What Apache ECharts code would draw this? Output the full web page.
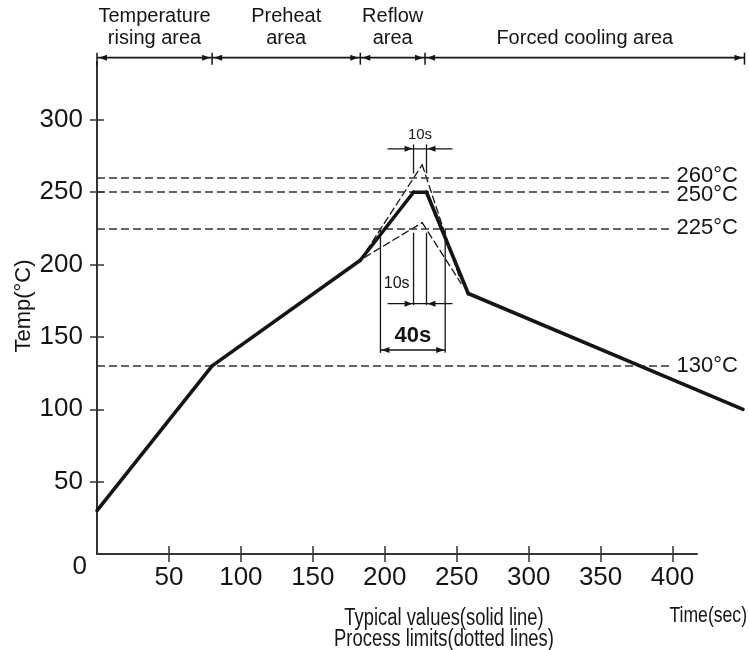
<!DOCTYPE html>
<html>
<head>
<meta charset="utf-8">
<title>Reflow profile</title>
<script src="https://cdn.jsdelivr.net/npm/echarts@6/dist/echarts.min.js"></script>
<style>
    html, body { margin: 0; padding: 0; background: #fff; }
    #chart { width: 749px; height: 650px; }
</style>
</head>
<body>
<div id="chart"></div>
<script>
    // time in seconds, temperature in °C
    const typical = [[0, 30], [80, 130], [183, 203], [220, 250], [229, 250], [258, 180], [449, 100]];
    const upperLimit = [[183, 203], [226, 269], [252, 191]];
    const lowerLimit = [[186, 205], [226, 229], [253, 187]];
    const limitTemps = [260, 250, 225, 130];
    const limitEnd = 400;
    const zoneEdges = [0, 80, 183, 228, 450];
    const zoneNames = ['Temperature\nrising area', 'Preheat\narea', 'Reflow\narea', 'Forced cooling area'];
    const zoneLineTemp = 343;
    const xTicks = [50, 100, 150, 200, 250, 300, 350, 400];
    const yTicks = [50, 100, 150, 200, 250, 300];
    // dimension marks: [from time, to time, temp of the dimension line]
    const dimSpans = [[197, 242, 141], [220, 229, 173], [220, 229, 280]];
    // extension lines: [top temp, bottom temp]
    const dimExtents = [[225, 139], [222, 172], [283, 263]];
    const dimLabels = ['40s', '10s', '10s'];

    const FONT = '"Liberation Sans", Arial, sans-serif';
    const INK = '#151515';

    function arrowHead(tip, dx, len, half) {
        // dx: +1 points right, -1 points left
        const bx = tip[0] - dx * len;
        return {
            type: 'polygon',
            shape: {points: [[tip[0], tip[1]], [bx, tip[1] - half], [bx, tip[1] + half]]},
            style: {fill: INK}
        };
    }

    function seg(x1, y1, x2, y2, w) {
        return {type: 'line', shape: {x1: x1, y1: y1, x2: x2, y2: y2}, style: {stroke: INK, lineWidth: w || 1.4}};
    }

    // profile drawn segment by segment so the cooling slope can run past the axis end
    function profile(name, points, width, dash, z) {
        return {
            name: name, type: 'custom', clip: false, silent: true, z: z,
            data: points,
            encode: {x: 0, y: 1},
            renderItem: function (params, api) {
                const i = params.dataIndex;
                if (i === 0) {
                    return {type: 'group', children: []};
                }
                const p0 = api.coord(points[i - 1]);
                const p1 = api.coord([api.value(0), api.value(1)]);
                return {
                    type: 'line',
                    shape: {x1: p0[0], y1: p0[1], x2: p1[0], y2: p1[1]},
                    style: {stroke: INK, lineWidth: width, lineDash: dash, lineCap: 'round'}
                };
            }
        };
    }

    let myChart = echarts.init(document.getElementById('chart'));
    myChart.setOption({
        animation: false,
        backgroundColor: '#fff',
        grid: {left: 97, right: 52, top: 62, bottom: 96, containLabel: false, outerBoundsMode: 'none'},
        xAxis: [
            {
                type: 'value', min: 0, max: 417,
                axisLine: {lineStyle: {color: '#333', width: 2}},
                axisTick: {length: 8, customValues: xTicks, lineStyle: {color: '#333', width: 1.5}},
                axisLabel: {customValues: xTicks, fontSize: 26, fontFamily: FONT, color: INK, margin: 11},
                splitLine: {show: false}
            },
            {
                type: 'value', min: 0, max: 417, position: 'bottom',
                axisLine: {show: false},
                axisTick: {inside: true, length: 8, customValues: xTicks, lineStyle: {color: '#333', width: 1.5}},
                axisLabel: {show: false},
                splitLine: {show: false}
            }
        ],
        yAxis: [
            {
                type: 'value', min: 0, max: 340,
                axisLine: {show: true, lineStyle: {color: '#333', width: 2}},
                axisTick: {show: true, length: 7, customValues: yTicks, lineStyle: {color: '#333', width: 1.5}},
                axisLabel: {customValues: yTicks, fontSize: 26, fontFamily: FONT, color: INK, margin: 14},
                splitLine: {show: false}
            },
            {
                // inner half of the crossing ticks, plus the origin label
                type: 'value', min: 0, max: 340, position: 'left',
                axisLine: {show: false},
                axisTick: {show: true, inside: true, length: 7, customValues: yTicks, lineStyle: {color: '#333', width: 1.5}},
                axisLabel: {
                    customValues: [0], margin: 10,
                    formatter: function () { return '{z|0}'; },
                    rich: {z: {fontSize: 26, fontFamily: FONT, color: INK, padding: [26, 0, 0, 0]}}
                },
                splitLine: {show: false}
            }
        ],
        graphic: [
            {type: 'text', x: 24, y: 306, rotation: Math.PI / 2,
                style: {text: 'Temp(°C)', font: '22px ' + FONT, fill: INK, align: 'center', verticalAlign: 'middle'}},
            {type: 'text', x: 747, y: 616, scaleX: 0.8,
                style: {text: 'Time(sec)', font: '22px ' + FONT, fill: INK, align: 'right', verticalAlign: 'middle'}},
            {type: 'text', x: 444, y: 608, scaleX: 0.8,
                style: {text: 'Typical values(solid line)\nProcess limits(dotted lines)', font: '23px ' + FONT,
                    fill: INK, align: 'center', verticalAlign: 'top', lineHeight: 21}}
        ],
        series: [
            {
                name: 'limits', type: 'line', data: [], symbol: 'none',
                markLine: {
                    silent: true, symbol: 'none',
                    lineStyle: {color: '#333', width: 1.5, type: [8, 4]},
                    label: {
                        position: 'end', distance: 4, fontSize: 22, fontFamily: FONT, color: INK,
                        formatter: function (p) { return p.data.temp + '°C'; }
                    },
                    data: limitTemps.map(function (t) {
                        return [{coord: [0, t], temp: t,
                            label: {offset: t === 260 ? [0, -2] : (t === 250 ? [0, 3] : [0, 0])}},
                            {coord: [limitEnd, t]}];
                    })
                }
            },
            profile('upper limit', upperLimit, 1.3, [7, 4], 3),
            profile('lower limit', lowerLimit, 1.3, [7, 4], 3),
            profile('typical', typical, 3.6, null, 5),
            {
                name: 'zones', type: 'custom', clip: false, silent: true,
                data: zoneNames.map(function (n, i) { return [zoneEdges[i], zoneEdges[i + 1]]; }),
                encode: {x: [0, 1]},
                renderItem: function (params, api) {
                    const i = params.dataIndex;
                    const a = api.coord([api.value(0), zoneLineTemp]);
                    const b = api.coord([api.value(1), zoneLineTemp]);
                    const children = [
                        seg(a[0], a[1], b[0], b[1], 1.6),
                        arrowHead([a[0] + 2, a[1]], -1, 8, 3),
                        arrowHead([b[0] - 2, b[1]], 1, 8, 3),
                        seg(a[0], a[1] - 5, a[0], a[1] + 7, 1.5),
                        {type: 'text', style: {text: zoneNames[i], x: (a[0] + b[0]) / 2, y: a[1] - 8,
                            align: 'center', verticalAlign: 'bottom', font: '20px ' + FONT, fill: INK, lineHeight: 22}}
                    ];
                    if (i === zoneNames.length - 1) {
                        children.push(seg(b[0], b[1] - 5, b[0], b[1] + 7, 1.5));
                    }
                    return {type: 'group', children: children};
                }
            },
            {
                name: 'dims', type: 'custom', clip: false, silent: true,
                data: dimSpans,
                encode: {x: [0, 1], y: 2},
                renderItem: function (params, api) {
                    const i = params.dataIndex;
                    const y = api.value(2);
                    const a = api.coord([api.value(0), y]);
                    const b = api.coord([api.value(1), y]);
                    const top = api.coord([0, dimExtents[i][0]])[1];
                    const bot = api.coord([0, dimExtents[i][1]])[1];
                    const children = [
                        seg(a[0], top, a[0], bot, 1.3),
                        seg(b[0], top, b[0], bot, 1.3)
                    ];
                    if (i === 0) {
                        children.push(seg(a[0], a[1], b[0], b[1], 1.4));
                        children.push(arrowHead([a[0] + 1, a[1]], -1, 8, 3));
                        children.push(arrowHead([b[0] - 1, b[1]], 1, 8, 3));
                        children.push({type: 'text', style: {text: dimLabels[i], x: (a[0] + b[0]) / 2, y: a[1] - 3,
                            align: 'center', verticalAlign: 'bottom', font: 'bold 22px ' + FONT, fill: INK}});
                    } else {
                        children.push(seg(a[0] - 26, a[1], b[0] + 26, b[1], 1.3));
                        children.push(arrowHead([a[0] - 1, a[1]], 1, 8, 3));
                        children.push(arrowHead([b[0] + 1, b[1]], -1, 8, 3));
                        if (i === 1) {
                            children.push({type: 'text', style: {text: dimLabels[i], x: a[0] - 4, y: a[1] - 12,
                                align: 'right', verticalAlign: 'bottom', font: '16px ' + FONT, fill: INK}});
                        } else {
                            children.push({type: 'text', style: {text: dimLabels[i], x: (a[0] + b[0]) / 2, y: a[1] - 6,
                                align: 'center', verticalAlign: 'bottom', font: '15px ' + FONT, fill: INK}});
                        }
                    }
                    return {type: 'group', children: children};
                }
            }
        ]
    });
</script>
</body>
</html>
